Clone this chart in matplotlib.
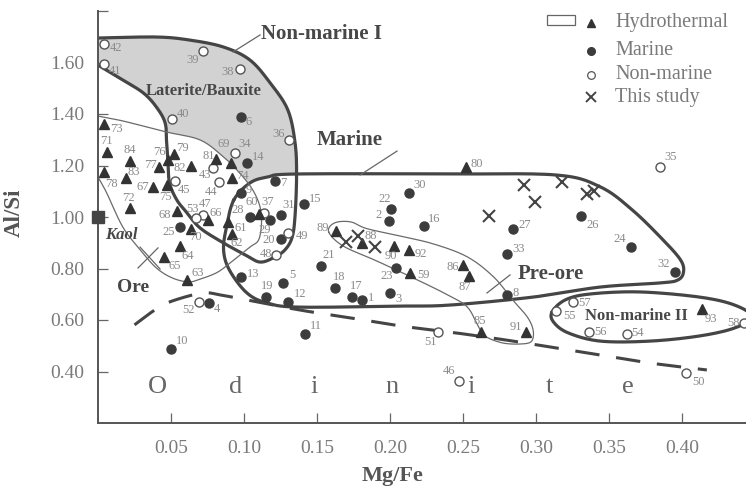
import numpy as np
import matplotlib.pyplot as plt
from matplotlib.patches import Polygon, Rectangle

plt.rcParams['font.family'] = ['Liberation Serif', 'DejaVu Serif']

# ---- data: Mg/Fe (x) and Al/Si (y) ----
marine_id = list(range(1, 34))
marine_x = [0.181, 0.199, 0.200, 0.076, 0.127, 0.098, 0.121, 0.280, 0.098, 0.050,
            0.142, 0.130, 0.098, 0.102, 0.141, 0.223, 0.174, 0.162, 0.115, 0.125,
            0.153, 0.201, 0.204, 0.365, 0.056, 0.331, 0.284, 0.104, 0.118, 0.213,
            0.125, 0.395, 0.280]
marine_y = [0.678, 0.984, 0.706, 0.665, 0.745, 1.390, 1.141, 0.697, 1.094, 0.487,
            0.546, 0.671, 0.768, 1.211, 1.049, 0.965, 0.690, 0.723, 0.688, 0.913,
            0.810, 1.030, 0.801, 0.882, 0.960, 1.004, 0.952, 1.001, 0.988, 1.092,
            1.008, 0.788, 0.856]

nonmarine_id = list(range(34, 59))
nonmarine_x = [0.094, 0.385, 0.131, 0.114, 0.097, 0.072, 0.051, 0.004, 0.004, 0.079,
               0.083, 0.053, 0.247, 0.072, 0.122, 0.130, 0.403, 0.233, 0.069, 0.067,
               0.362, 0.314, 0.336, 0.325, 0.4425]
nonmarine_y = [1.249, 1.193, 1.299, 1.017, 1.576, 1.646, 1.379, 1.593, 1.671, 1.189,
               1.137, 1.140, 0.364, 1.008, 0.852, 0.937, 0.395, 0.552, 0.671, 0.995,
               0.546, 0.636, 0.555, 0.671, 0.590]

hydro_id = list(range(59, 94))
hydro_x = [0.214, 0.110, 0.089, 0.092, 0.061, 0.056, 0.045, 0.075, 0.038, 0.054,
           0.091, 0.064, 0.006, 0.022, 0.004, 0.092, 0.047, 0.048, 0.042, 0.004,
           0.052, 0.252, 0.081, 0.064, 0.019, 0.022, 0.262, 0.250, 0.254, 0.181,
           0.163, 0.203, 0.293, 0.213, 0.414]
hydro_y = [0.781, 1.012, 0.982, 0.934, 0.755, 0.887, 0.843, 0.988, 1.115, 1.023,
           1.211, 0.953, 1.251, 1.034, 1.361, 1.150, 1.124, 1.221, 1.193, 1.176,
           1.245, 1.193, 1.224, 1.199, 1.150, 1.219, 0.555, 0.814, 0.771, 0.900,
           0.947, 0.887, 0.555, 0.872, 0.642]

study_x = [0.170, 0.178, 0.190, 0.292, 0.318, 0.299, 0.268, 0.335, 0.340]
study_y = [0.904, 0.926, 0.882, 1.124, 1.135, 1.059, 1.004, 1.089, 1.102]

kaol_x, kaol_y = [0.0], [1.0]

x_ticks = [0.05, 0.10, 0.15, 0.20, 0.25, 0.30, 0.35, 0.40]
y_ticks = [0.40, 0.60, 0.80, 1.00, 1.20, 1.40, 1.60, 1.80]
y_ticklabels = ['0.40', '0.60', '0.80', '1.00', '1.20', '1.40', '1.60', '']

# field outlines (vertices in data units)
nm1_x = [0.000, 0.040, 0.063, 0.086, 0.104, 0.118, 0.130, 0.135, 0.136, 0.135,
         0.133, 0.128, 0.120, 0.111, 0.102, 0.086, 0.070, 0.061, 0.054, 0.049,
         0.048, 0.047, 0.046, 0.040, 0.031, 0.017, 0.000]
nm1_y = [1.695, 1.699, 1.687, 1.660, 1.610, 1.520, 1.416, 1.287, 1.163, 1.008,
         0.922, 0.872, 0.841, 0.825, 0.849, 0.899, 0.957, 1.016, 1.066, 1.132,
         1.210, 1.287, 1.365, 1.427, 1.482, 1.532, 1.590]

ore_x = [0.000, 0.017, 0.047, 0.070, 0.086, 0.097, 0.106, 0.111, 0.112, 0.110,
         0.104, 0.093, 0.082, 0.070, 0.062, 0.051, 0.040, 0.029, 0.017, 0.006, 0.000]
ore_y = [1.392, 1.373, 1.330, 1.299, 1.233, 1.171, 1.105, 1.039, 0.977, 0.911,
         0.883, 0.833, 0.786, 0.759, 0.748, 0.763, 0.802, 0.872, 0.961, 1.093, 1.155]

marine_fx = [0.093, 0.104, 0.116, 0.136, 0.241, 0.314, 0.344, 0.366, 0.387, 0.399,
             0.401, 0.397, 0.385, 0.344, 0.298, 0.241, 0.207, 0.138, 0.116, 0.102,
             0.090, 0.086, 0.088]
marine_fy = [1.066, 1.132, 1.155, 1.167, 1.167, 1.163, 1.117, 1.027, 0.911, 0.833,
             0.786, 0.755, 0.744, 0.728, 0.689, 0.658, 0.654, 0.650, 0.666, 0.705,
             0.794, 0.872, 0.961]

preore_x = [0.158, 0.162, 0.173, 0.184, 0.207, 0.230, 0.253, 0.271, 0.284, 0.294,
            0.298, 0.297, 0.290, 0.277, 0.265, 0.260, 0.253, 0.241, 0.219, 0.191, 0.168]
preore_y = [0.942, 0.977, 0.981, 0.955, 0.926, 0.895, 0.845, 0.767, 0.678, 0.612,
            0.561, 0.518, 0.507, 0.511, 0.538, 0.581, 0.650, 0.693, 0.755, 0.829, 0.887]

nm2_x = [0.311, 0.320, 0.337, 0.371, 0.412, 0.436, 0.448, 0.436, 0.412, 0.378,
         0.344, 0.322, 0.312]
nm2_y = [0.631, 0.678, 0.701, 0.709, 0.689, 0.658, 0.612, 0.569, 0.538, 0.518,
         0.518, 0.550, 0.592]

dash_x = [0.025, 0.041, 0.053, 0.072, 0.084, 0.102, 0.138, 0.173, 0.207, 0.241,
          0.275, 0.310, 0.344, 0.378, 0.417]
dash_y = [0.581, 0.647, 0.678, 0.705, 0.697, 0.678, 0.639, 0.608, 0.577, 0.553,
          0.526, 0.495, 0.464, 0.433, 0.406]

# label offsets in pixels (dx, dy)
LABEL_OFF = {
    1: (9, 2), 2: (-10, 6), 3: (8, -6), 4: (8, -6), 5: (9, 8), 6: (8, -5), 7: (9, -2),
    8: (9, 2), 9: (8, 3), 10: (11, 8), 11: (11, 8), 12: (12, 8), 13: (12, 3),
    14: (11, 6), 15: (11, 5), 16: (11, 7), 17: (4, 11), 18: (5, 11), 19: (1, 11),
    20: (-12, -1), 21: (7, 11), 22: (-7, 10), 23: (-9, -8), 24: (-11, 8),
    25: (-11, -5), 26: (11, -9), 27: (12, 4), 28: (-12, 7), 29: (-6, -10),
    30: (11, 8), 31: (8, 10), 32: (-11, 8), 33: (12, 5), 34: (9, 9), 35: (10, 10),
    36: (-11, 6), 37: (3, 11), 38: (-12, -3), 39: (-11, -9), 40: (11, 5),
    41: (11, -7), 42: (12, -4), 43: (-8, -7), 44: (-8, -10), 45: (9, -9),
    46: (-10, 10), 47: (2, 11), 48: (-10, 1), 49: (14, -3), 50: (12, -9),
    51: (-8, -10), 52: (-10, -8), 53: (-3, 9), 54: (11, 1), 55: (13, -5),
    56: (12, 0), 57: (12, -1), 58: (-11, 0), 59: (13, -2), 60: (-7, 12),
    61: (13, -6), 62: (4, -9), 63: (11, 7), 64: (8, -10), 65: (11, -9),
    66: (8, 7), 67: (-11, 0), 68: (-12, -4), 69: (-7, 19), 70: (4, -8),
    71: (0, 11), 72: (-2, 10), 73: (13, -5), 74: (10, 2), 75: (-1, -12),
    76: (-9, 8), 77: (-9, 2), 78: (8, -12), 79: (9, 6), 80: (11, 3), 81: (-8, 3),
    82: (-12, -2), 83: (8, 6), 84: (0, 11), 85: (-1, 11), 86: (-10, -2),
    87: (-4, -11), 88: (8, 7), 89: (-13, 3), 90: (-4, -10), 91: (-10, 5),
    92: (12, -4), 93: (8, -10),
}


def smooth(xs, ys, closed, n=14):
    p = np.column_stack([xs, ys])
    if closed:
        p = np.vstack([p[-1], p, p[0], p[1]])
    else:
        p = np.vstack([p[0], p, p[-1]])
    t = np.linspace(0, 1, n, endpoint=False)[:, None]
    out = []
    for i in range(1, len(p) - 2):
        p0, p1, p2, p3 = p[i - 1], p[i], p[i + 1], p[i + 2]
        out.append(0.5 * (2 * p1 + (-p0 + p2) * t + (2 * p0 - 5 * p1 + 4 * p2 - p3) * t ** 2
                          + (-p0 + 3 * p1 - 3 * p2 + p3) * t ** 3))
    out.append(p[-2][None])
    return np.vstack(out)


fig = plt.figure(figsize=(7.46, 4.88), dpi=100)
ax = fig.add_axes([98 / 746, 65 / 488, 648 / 746, 412 / 488])
ax.set_xlim(0, 0.4438)
ax.set_ylim(0.2, 1.8)

dark = '#3c3c3c'
line_c = '#454545'

nm1 = smooth(nm1_x, nm1_y, False)
ore = smooth(ore_x, ore_y, False)
mar = smooth(marine_fx, marine_fy, True)
pre = smooth(preore_x, preore_y, True)
nm2 = smooth(nm2_x, nm2_y, True)
dsh = smooth(dash_x, dash_y, False)

# gray laterite/bauxite field = Non-marine I minus Ore and Marine fields
ax.add_patch(Polygon(nm1, closed=True, fc='#d2d2d2', ec='none', zorder=1))
ax.add_patch(Polygon(ore, closed=True, fc='white', ec='none', zorder=1.1))
ax.add_patch(Polygon(mar, closed=True, fc='white', ec='none', zorder=1.1))

ax.plot(nm1[:, 0], nm1[:, 1], color=line_c, lw=2.3, zorder=2)
ax.plot(mar[:, 0], mar[:, 1], color=line_c, lw=2.3, zorder=2)
ax.plot(nm2[:, 0], nm2[:, 1], color=line_c, lw=2.3, zorder=2)
ax.plot(ore[:, 0], ore[:, 1], color='#6a6a6a', lw=0.9, zorder=2)
ax.plot(pre[:, 0], pre[:, 1], color='#6a6a6a', lw=0.9, zorder=2)
ax.plot(dsh[:, 0], dsh[:, 1], color=line_c, lw=2.2, ls=(0, (8, 5.5)), zorder=2)

# leader lines
ax.plot([0.0925, 0.111], [1.641, 1.707], color='#666', lw=0.9, zorder=2)
ax.plot([0.1795, 0.2048], [1.163, 1.256], color='#666', lw=0.9, zorder=2)
ax.plot([0.2664, 0.2822], [0.705, 0.775], color='#666', lw=0.9, zorder=2)
ax.plot([0.0288, 0.0425], [0.883, 0.798], color='#666', lw=0.9, zorder=2)
ax.plot([0.0411, 0.0274], [0.880, 0.802], color='#666', lw=0.9, zorder=2)

# points
ax.plot(marine_x, marine_y, 'o', ms=6.5, color=dark, mec=dark, zorder=4)
ax.plot(nonmarine_x, nonmarine_y, 'o', ms=6.5, mfc='white', mec='#555', mew=1.0, zorder=4)
ax.plot(hydro_x, hydro_y, '^', ms=6.5, color='#333', zorder=4)
ax.plot(study_x, study_y, 'x', ms=9, mew=1.5, color='#444', zorder=4)
ax.plot(kaol_x, kaol_y, 's', ms=9, color='#444', zorder=5, clip_on=False)

for ids, xs, ys in [(marine_id, marine_x, marine_y), (nonmarine_id, nonmarine_x, nonmarine_y),
                    (hydro_id, hydro_x, hydro_y)]:
    for i, x, y in zip(ids, xs, ys):
        dx, dy = LABEL_OFF[i]
        ax.annotate(str(i), (x, y), xytext=(dx, dy), textcoords='offset pixels',
                    ha='center', va='center', fontsize=9, color='#8a8a8a', zorder=5)

# field names
lab = dict(fontweight='bold', color='#474747', ha='center', va='center', zorder=6)
ax.text(0.1534, 1.711, 'Non-marine I', fontsize=15, **lab)
ax.text(0.0726, 1.489, 'Laterite/Bauxite', fontsize=12, **lab)
ax.text(0.1726, 1.299, 'Marine', fontsize=15, **lab)
ax.text(0.3103, 0.779, 'Pre-ore', fontsize=15, **lab)
ax.text(0.3685, 0.616, 'Non-marine II', fontsize=12, **lab)
ax.text(0.0240, 0.728, 'Ore', fontsize=14, **lab)
ax.text(0.0158, 0.930, 'Kaol', fontsize=12, style='italic', **lab)

for k, ch in enumerate('Odinite'):
    ax.text(0.0404 + k * 0.0537, 0.340, ch, fontsize=19, color='#666',
            ha='center', va='center', zorder=3)

# legend
ax.add_patch(Rectangle((0.693, 0.966), 0.043, 0.024, transform=ax.transAxes,
                       fc='white', ec='#666', lw=0.9, clip_on=False))
leg_y = [0.971, 0.903, 0.845, 0.791]
ax.plot([0.761], [leg_y[0]], '^', ms=5.5, color='#333', transform=ax.transAxes, clip_on=False)
ax.plot([0.761], [leg_y[1]], 'o', ms=5.5, color=dark, transform=ax.transAxes, clip_on=False)
ax.plot([0.761], [leg_y[2]], 'o', ms=5.5, mfc='white', mec='#555', mew=0.9,
        transform=ax.transAxes, clip_on=False)
ax.plot([0.761], [leg_y[3]], 'x', ms=7, mew=1.4, color='#444', transform=ax.transAxes,
        clip_on=False)
for yy, t in zip(leg_y, ['Hydrothermal', 'Marine', 'Non-marine', 'This study']):
    ax.text(0.798, yy, t, transform=ax.transAxes, fontsize=14.5, color='#7a7a7a',
            ha='left', va='center')

# axes styling
for s in ['top', 'right']:
    ax.spines[s].set_visible(False)
for s in ['left', 'bottom']:
    ax.spines[s].set_color('#555')
    ax.spines[s].set_linewidth(1.4)
ax.set_xticks(x_ticks)
ax.set_xticklabels([f'{v:.2f}' for v in x_ticks])
ax.set_yticks(y_ticks)
ax.set_yticklabels(y_ticklabels)
ax.tick_params(direction='in', length=7, width=0.9, color='#666', labelcolor='#7a7a7a',
               labelsize=14)
ax.tick_params(axis='x', pad=12)
ax.tick_params(axis='y', pad=10)
ax.set_xlabel('Mg/Fe', fontsize=16, fontweight='bold', color='#555')
ax.set_ylabel('Al/Si', fontsize=16.5, fontweight='bold', color='#555')
ax.xaxis.set_label_coords(0.455, -0.104)
ax.yaxis.set_label_coords(-0.113, 0.51)

fig.savefig('out.png', dpi=100)
